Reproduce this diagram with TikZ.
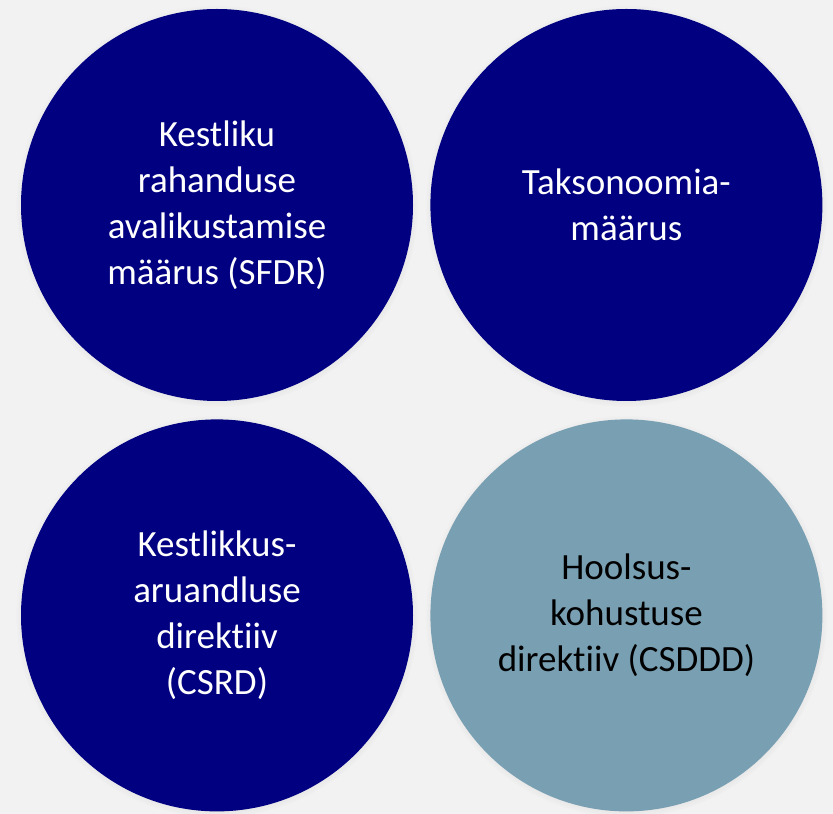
\documentclass[tikz,border=0pt]{standalone}
\usepackage{fontspec}
\setmainfont{Carlito}[Ligatures={NoCommon}]
\usepackage{xcolor}
\usetikzlibrary{positioning,shadows}

\definecolor{bggray}{HTML}{F2F2F2}
\definecolor{navyfill}{HTML}{000080}
\definecolor{greyblue}{HTML}{789FB2}

\begin{document}
\begin{tikzpicture}[
    x=1pt, y=1pt,
    font=\fontsize{37}{46}\selectfont,
    act/.style = {circle, minimum size=392pt, inner sep=0pt, align=center,
                  fill=navyfill, text=white,
                  circular drop shadow={shadow xshift=0pt, shadow yshift=-1pt,
                                        shadow scale=1.025, opacity=0.35}},
    draft/.style = {act, fill=greyblue, text=black},
]

%% ── Background ────────────────────────────────────────────────────────────
\fill[bggray] (0,0) rectangle (833,814);
\useasboundingbox (0,0) rectangle (833,814);

%% ── Top row ───────────────────────────────────────────────────────────────
\node[act] (sfdr) at (217, 609)
  {Kestliku\\rahanduse\\avalikustamise\\määrus (SFDR)};
\node[act, right=17pt of sfdr] (tax)
  {Taksonoomia-\\määrus};

%% ── Bottom row ────────────────────────────────────────────────────────────
\node[act, below=18pt of sfdr] (csrd)
  {Kestlikkus-\\aruandluse\\direktiiv\\(CSRD)};
\node[draft, below=18pt of tax] (csddd)
  {Hoolsus-\\kohustuse\\direktiiv (CSDDD)};

\end{tikzpicture}
\end{document}
